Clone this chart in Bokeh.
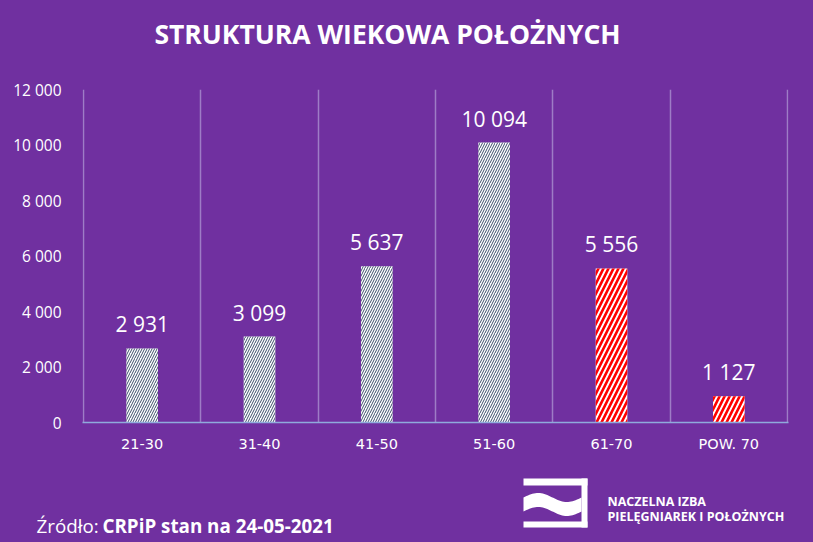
import numpy as np
from bokeh.plotting import figure
from bokeh.models import Range1d, FixedTicker, CustomJSTickFormatter, ColumnDataSource
from bokeh.layouts import column
from bokeh.embed import file_html
from bokeh.resources import INLINE
from bokeh.core.properties import value

# ---- data ----
categories = ["21-30", "31-40", "41-50", "51-60", "61-70", "POW. 70"]
counts = [2931, 3099, 5637, 10094, 5556, 1127]          # printed value labels
bar_heights = [2670, 3099, 5630, 10090, 5550, 950]       # bar heights as drawn
y_ticks = [0, 2000, 4000, 6000, 8000, 10000, 12000]
y_tick_labels = ["0", "2 000", "4 000", "6 000", "8 000", "10 000", "12 000"]
title_text = "STRUKTURA WIEKOWA POŁOŻNYCH"
source_label = "Źródło: "
source_text = "CRPiP stan na 24-05-2021"
org_lines = ["NACZELNA IZBA", "PIELĘGNIAREK I POŁOŻNYCH"]

BG = "#7030A0"
FONT = "Open Sans"
W = 813
H_HEAD, H_MAIN, H_FOOT = 68, 392, 82


def blank(height):
    fig = figure(width=W, height=height, x_range=Range1d(0, W), y_range=Range1d(height, 0),
                 output_backend="svg", toolbar_location=None, x_axis_location=None,
                 y_axis_location=None, min_border=0, frame_align=False)
    fig.background_fill_color = BG
    fig.border_fill_color = BG
    fig.outline_line_color = None
    fig.grid.visible = False
    return fig


# ---- header ----
h = blank(H_HEAD)
h.text(x=[387], y=[33], text=[title_text], text_align="center", text_baseline="middle",
       text_color="white", text_font=value(FONT), text_font_style="bold", text_font_size="26.5px")

# ---- main chart ----
x_pos = [i + 0.5 for i in range(len(categories))]
labels = [f"{c:,}".replace(",", " ") for c in counts]
pad = 0.0085

p = figure(width=W, height=H_MAIN, x_range=Range1d(-pad, len(categories) + pad),
           y_range=Range1d(0, 12000),
           output_backend="svg", toolbar_location=None, frame_align=False,
           min_border_left=82, min_border_right=25, min_border_top=89 - H_HEAD,
           min_border_bottom=H_HEAD + H_MAIN - 422)
p.background_fill_color = BG
p.border_fill_color = BG
p.outline_line_color = None

gray_src = ColumnDataSource(dict(x=x_pos[:4], top=bar_heights[:4]))
red_src = ColumnDataSource(dict(x=x_pos[4:], top=bar_heights[4:]))
p.vbar(x="x", top="top", bottom=0, width=0.27, source=gray_src, fill_color="white", line_color=None,
       hatch_pattern="/", hatch_color="#3B4E6A", hatch_scale=5, hatch_weight=1.0)
p.vbar(x="x", top="top", bottom=0, width=0.27, source=red_src, fill_color="white", line_color=None,
       hatch_pattern="/", hatch_color="#FF0000", hatch_scale=10, hatch_weight=2.6)

p.text(x=x_pos, y=bar_heights, text=labels, text_align="center", text_baseline="middle",
       y_offset=-24, text_color="white", text_font=value(FONT), text_font_size="21px")

p.xaxis.ticker = FixedTicker(ticks=x_pos)
p.xaxis.formatter = CustomJSTickFormatter(args=dict(labels=categories),
                                          code="return labels[Math.floor(tick)];")
p.xaxis.axis_line_color = "#8FAADC"
p.xaxis.axis_line_width = 1.5
p.xaxis.major_tick_line_color = None
p.xaxis.minor_tick_line_color = None
p.xaxis.major_label_standoff = 7
p.xaxis.major_label_text_color = "white"
p.xaxis.major_label_text_font = "DejaVu Sans"
p.xaxis.major_label_text_font_size = "14.5px"

p.yaxis.ticker = FixedTicker(ticks=y_ticks)
p.yaxis.formatter = CustomJSTickFormatter(args=dict(labels=y_tick_labels, vals=y_ticks),
                                          code="const i = vals.indexOf(tick); return i >= 0 ? labels[i] : '';")
p.yaxis.axis_line_color = None
p.yaxis.major_tick_line_color = None
p.yaxis.minor_tick_line_color = None
p.yaxis.major_label_standoff = 15
p.yaxis.major_label_text_color = "white"
p.yaxis.major_label_text_font = FONT
p.yaxis.major_label_text_font_size = "15.5px"

p.ygrid.visible = False
p.xgrid.ticker = FixedTicker(ticks=list(range(len(categories) + 1)))
p.xgrid.grid_line_color = "#9E7CC6"
p.xgrid.grid_line_width = 1.5

# ---- footer ----
f = blank(H_FOOT)
f.text(x=[36], y=[65], text=[source_label], text_align="left", text_baseline="alphabetic",
       text_color="white", text_font=value(FONT), text_font_size="18.8px")
f.text(x=[102], y=[65], text=[source_text], text_align="left", text_baseline="alphabetic",
       text_color="white", text_font=value(FONT), text_font_style="bold", text_font_size="18.8px")
f.text(x=[607, 607], y=[41, 56], text=org_lines, text_align="left", text_baseline="alphabetic",
       text_color="white", text_font=value(FONT), text_font_style="bold", text_font_size="12.5px")

# logo
f.quad(left=[523, 581, 523], right=[587, 587, 587], top=[18, 18, 61], bottom=[25, 67, 67],
       fill_color="white", line_color=None)
t = np.linspace(0, 1, 40)
wx = 523 + 58 * t
yc = 44 + 4.5 * np.sin(2 * np.pi * t + np.pi)
wave_x = np.concatenate([wx, wx[::-1]])
wave_y = np.concatenate([yc - 7, (yc + 7)[::-1]])
f.patch(wave_x, wave_y, fill_color="white", line_color=None)

layout = column(h, p, f, spacing=0, styles={"background-color": BG})
html = file_html(layout, INLINE)
html = html.replace("<body>", '<body style="margin:0;background-color:%s;">' % BG, 1)
open("out.html", "w").write(html)
